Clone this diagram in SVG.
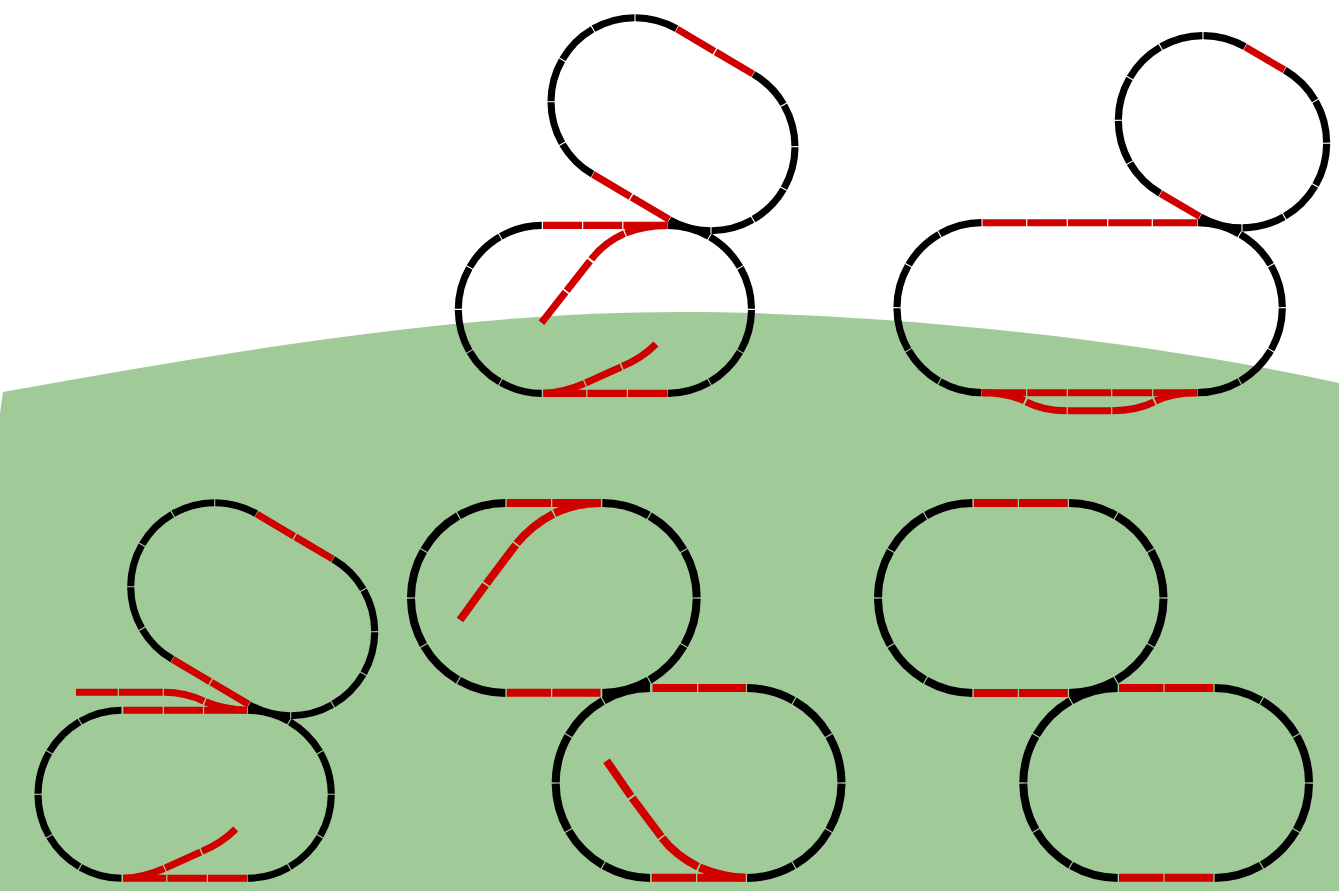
<svg xmlns="http://www.w3.org/2000/svg" width="1339" height="891" viewBox="0 0 1339 891">
<style>
.k{fill:none;stroke:#000;stroke-width:7.1}
.r{fill:none;stroke:#d00000;stroke-width:7.1}
.R{fill:none;stroke:#d00000;stroke-width:8}
</style>
<defs>
<path id="arc" class="k" d="M83.998 .55A84 84 0 0 1 73.02 41.52"/>
<g id="semi">
<use href="#arc" transform="rotate(-90)"/><use href="#arc" transform="rotate(-60)"/><use href="#arc" transform="rotate(-30)"/><use href="#arc"/><use href="#arc" transform="rotate(30)"/><use href="#arc" transform="rotate(60)"/>
</g>
</defs>
<rect width="1339" height="891" fill="#fff"/>
<path id="ground" fill="#a0ca98" d="M0 891V413L3 392C229 352 454 312 680 312C860 312 1119 335 1339 383V891Z"/>

<g id="layout-top-middle">
<g id="tm-lower-oval"><use href="#semi" transform="translate(667.5 309.4)"/><use href="#semi" transform="translate(542.3 309.4) rotate(180)"/></g>
<g id="tm-upper-oval"><use href="#semi" transform="translate(711 146.7) rotate(30)"/><use href="#semi" transform="translate(635 101.7) rotate(210)"/></g>
<path class="r" d="M677 29L714.4 51.2M715.6 51.9L753 74M593 174.4L630.4 196.6M631.6 197.3L669 219.4"/>
<path class="r" d="M543 225.4H582M583.2 225.4H622.2M623.4 225.4H667.5"/>
<path class="r" d="M667.5 225.4C652 225.6 638 228 625.5 233M624.5 233.5C612 239 600 248 591.3 259.3M590 261L566.6 290.8M565.6 292L541.5 322.7"/>
<path class="r" d="M543.3 393.4H586.2M587.4 393.4H626.8M628 393.4H667.5"/>
<path class="r" d="M543.3 393.4C558 393 572 389 584.5 383.6M585.6 383L621 367M622.3 366.3C634 361.5 646 354 656 344"/>
</g>

<g id="layout-top-right">
<g id="tr-lower-oval"><use href="#semi" transform="translate(1197.3 307.7) scale(1.012)"/><use href="#semi" transform="translate(982 307.7) rotate(180) scale(1.012)"/></g>
<g id="tr-upper-oval"><use href="#semi" transform="translate(1242 143.2) rotate(30) scale(1.008)"/><use href="#semi" transform="translate(1203 120.3) rotate(210) scale(1.008)"/></g>
<path class="r" d="M1245.3 47L1284.3 69.9M1160.7 193.6L1199.7 216.5"/>
<path class="r" d="M982.5 222.7H1026.1M1027.3 222.7H1066.7M1067.9 222.7H1107.1M1108.3 222.7H1151.7M1152.9 222.7H1197.3"/>
<path class="r" d="M982.5 392.7H1026.1M1027.3 392.7H1066.7M1067.9 392.7H1111.1M1112.3 392.7H1152.1M1153.3 392.7H1197.3"/>
<path class="r" d="M982 392.7C998 392.7 1012 395 1024.5 400.8M1026.2 401.8C1038 408 1052 410.7 1066.7 410.7M1067.9 410.7H1111.1M1112.3 410.7C1127 410.7 1142 408 1154 402M1155.5 401C1168 395 1182 392.7 1197.3 392.7"/>
</g>

<g id="layout-bottom-left">
<g id="bl-lower-oval"><use href="#semi" transform="translate(247.3 794.3)"/><use href="#semi" transform="translate(122 794.3) rotate(180)"/></g>
<g id="bl-upper-oval"><use href="#semi" transform="translate(290.7 631.7) rotate(30)"/><use href="#semi" transform="translate(214.7 586.7) rotate(210)"/></g>
<path class="r" d="M256.7 514L294.1 536.2M295.3 536.9L332.7 559M172.7 659.4L210.1 681.6M211.3 682.3L248.7 704.4"/>
<path class="r" d="M123.3 710.3H162.7M163.9 710.3H202.9M204.1 710.3H247"/>
<path class="r" d="M76 692.3H117.7M118.9 692.3H162.7M163.9 692.3C179 692.3 192 695.5 204 701.2M205.3 701.9C218 707 232 710 247 710.3"/>
<path class="r" d="M123.3 878.3H166.2M167.4 878.3H206.8M208 878.3H247.3"/>
<path class="r" d="M123 878.3C138 878 152 874 164.2 868.6M165.3 868L200.7 852M202 851.3C213.7 846.5 225.7 839 235.7 829"/>
</g>

<g id="layout-bottom-middle">
<g id="bm-upper-oval"><use href="#semi" transform="translate(601.7 598) scale(1.131)"/><use href="#semi" transform="translate(506 598) rotate(180) scale(1.131)"/></g>
<g id="bm-lower-oval"><use href="#semi" transform="translate(746.5 783) scale(1.131)"/><use href="#semi" transform="translate(650.7 783) rotate(180) scale(1.131)"/></g>
<path class="R" d="M506.7 503H551M552.3 503H601M506.7 692.8H551M552.3 692.8H600.5"/>
<path class="R" d="M601 503C584 503 568 507 554.5 513.2M553.2 514C539 521.5 527 531 516.7 543.5M515.8 544.8L486.5 583.6M485.5 585L460 620"/>
<path class="R" d="M652.5 688H697M698.3 688H746M651.7 877.7H696M697.3 877.7H745.5"/>
<path class="R" d="M745.5 877.7C729 877.5 714 873.5 699.5 867.5M698 866.8C683 859 671 849.5 662 838M661.2 836.6L632.2 797.8M631 796.3L606.5 760.7"/>
</g>

<g id="layout-bottom-right">
<g id="br-upper-oval"><use href="#semi" transform="translate(1068.5 598) scale(1.131)"/><use href="#semi" transform="translate(973 598) rotate(180) scale(1.131)"/></g>
<g id="br-lower-oval"><use href="#semi" transform="translate(1214 783) scale(1.131)"/><use href="#semi" transform="translate(1118.3 783) rotate(180) scale(1.131)"/></g>
<path class="R" d="M973.8 503H1017.8M1019 503H1067.8M973.8 693H1017.8M1019 693H1067.8"/>
<path class="R" d="M1119 688H1163.4M1164.6 688H1213.3M1119 877.7H1163.4M1164.6 877.7H1213.3"/>
</g>
</svg>
